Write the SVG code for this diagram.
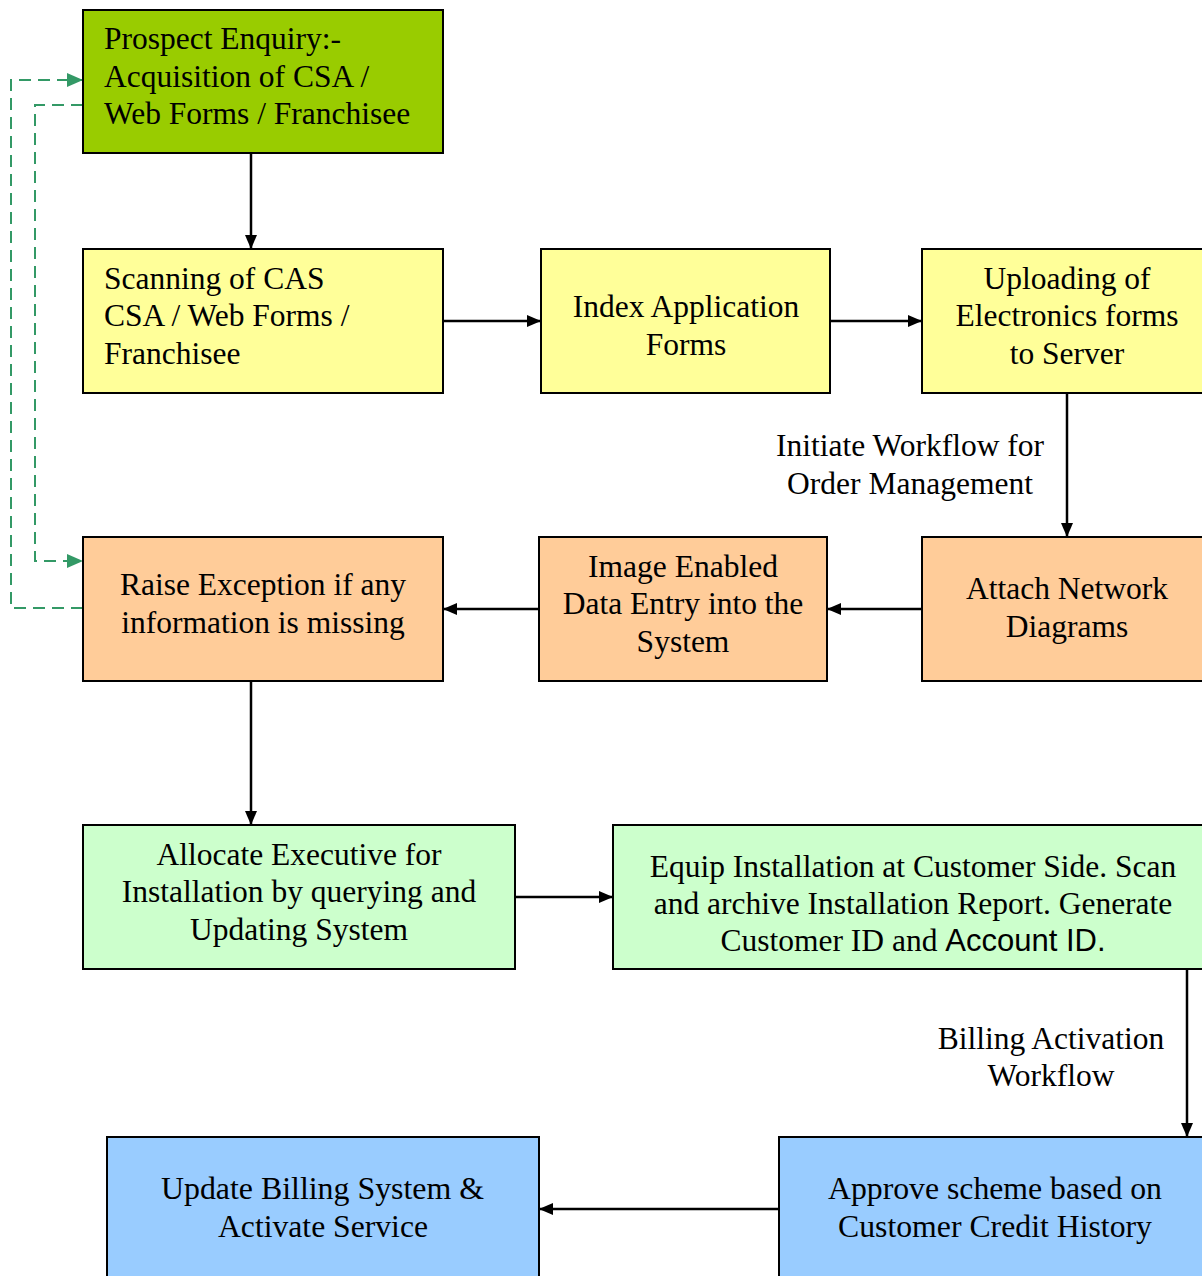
<svg xmlns="http://www.w3.org/2000/svg" width="1202" height="1276" viewBox="0 0 1202 1276">
<style>
.box{stroke:#000;stroke-width:2}
.t{font-family:"Liberation Serif","Times New Roman",serif;font-size:31.5px;fill:#000}
.c{text-anchor:middle}
.ln{stroke:#000;stroke-width:2.5;fill:none}
.dl{stroke:#339966;stroke-width:2;fill:none;stroke-dasharray:12,7}
</style>
<defs>
<marker id="ah" markerWidth="14" markerHeight="14" refX="13" refY="7" orient="auto" markerUnits="userSpaceOnUse" viewBox="0 0 14 14"><path d="M0,1 L14,7 L0,13 z" fill="#000"/></marker>
<marker id="gh" markerWidth="16" markerHeight="16" refX="15" refY="8" orient="auto" markerUnits="userSpaceOnUse" viewBox="0 0 16 16"><path d="M0,1 L16,8 L0,15 z" fill="#339966"/></marker>
</defs>
<rect width="1202" height="1276" fill="#fff"/>
<g id="connectors">
<path class="ln" d="M251,153 V248" marker-end="url(#ah)"/>
<path class="ln" d="M443,321 H540" marker-end="url(#ah)"/>
<path class="ln" d="M830,321 H921" marker-end="url(#ah)"/>
<path class="ln" d="M1067,393 V536" marker-end="url(#ah)"/>
<path class="ln" d="M922,609 H828" marker-end="url(#ah)"/>
<path class="ln" d="M539,609 H444" marker-end="url(#ah)"/>
<path class="ln" d="M251,681 V824" marker-end="url(#ah)"/>
<path class="ln" d="M515,897 H612" marker-end="url(#ah)"/>
<path class="ln" d="M1187,969 V1136" marker-end="url(#ah)"/>
<path class="ln" d="M779,1209 H540" marker-end="url(#ah)"/>
<path class="dl" d="M83,608 H11 V80 H82" marker-end="url(#gh)"/>
<path class="dl" d="M83,105 H35 V561 H82" marker-end="url(#gh)"/>
<text class="t c" x="910" y="456">Initiate Workflow for</text>
<text class="t c" x="910" y="494">Order Management</text>
<text class="t c" x="1051" y="1049">Billing Activation</text>
<text class="t c" x="1051" y="1086">Workflow</text>
</g>
<g id="n1"><rect class="box" x="83" y="10" width="360" height="143" fill="#99CC00"/>
<text class="t" x="104" y="49">Prospect Enquiry:-</text>
<text class="t" x="104" y="87">Acquisition of CSA /</text>
<text class="t" x="104" y="124">Web Forms / Franchisee</text></g>
<g id="n2"><rect class="box" x="83" y="249" width="360" height="144" fill="#FFFF99"/>
<text class="t" x="104" y="289">Scanning of CAS</text>
<text class="t" x="104" y="326">CSA / Web Forms /</text>
<text class="t" x="104" y="364">Franchisee</text></g>
<g id="n3"><rect class="box" x="541" y="249" width="289" height="144" fill="#FFFF99"/>
<text class="t c" x="686" y="317">Index Application</text>
<text class="t c" x="686" y="355">Forms</text></g>
<g id="n4"><rect class="box" x="922" y="249" width="282" height="144" fill="#FFFF99"/>
<text class="t c" x="1067" y="289">Uploading of</text>
<text class="t c" x="1067" y="326">Electronics forms</text>
<text class="t c" x="1067" y="364">to Server</text></g>
<g id="n5"><rect class="box" x="83" y="537" width="360" height="144" fill="#FFCC99"/>
<text class="t c" x="263" y="595">Raise Exception if any</text>
<text class="t c" x="263" y="633">information is missing</text></g>
<g id="n6"><rect class="box" x="539" y="537" width="288" height="144" fill="#FFCC99"/>
<text class="t c" x="683" y="577">Image Enabled</text>
<text class="t c" x="683" y="614">Data Entry into the</text>
<text class="t c" x="683" y="652">System</text></g>
<g id="n7"><rect class="box" x="922" y="537" width="282" height="144" fill="#FFCC99"/>
<text class="t c" x="1067" y="599">Attach Network</text>
<text class="t c" x="1067" y="637">Diagrams</text></g>
<g id="n8"><rect class="box" x="83" y="825" width="432" height="144" fill="#CCFFCC"/>
<text class="t c" x="299" y="865">Allocate Executive for</text>
<text class="t c" x="299" y="902">Installation by querying and</text>
<text class="t c" x="299" y="940">Updating System</text></g>
<g id="n9"><rect class="box" x="613" y="825" width="591" height="144" fill="#CCFFCC"/>
<text class="t c" x="913" y="877">Equip Installation at Customer Side. Scan</text>
<text class="t c" x="913" y="914">and archive Installation Report. Generate</text>
<text class="t c" x="913" y="951">Customer ID and <tspan font-family="Liberation Sans, Arial, sans-serif" font-size="31">Account ID.</tspan></text></g>
<g id="n10"><rect class="box" x="107" y="1137" width="432" height="141" fill="#99CCFF"/>
<text class="t" x="161" y="1199" textLength="323" lengthAdjust="spacingAndGlyphs">Update Billing System &amp;</text>
<text class="t" x="218" y="1237" textLength="210" lengthAdjust="spacingAndGlyphs">Activate Service</text></g>
<g id="n11"><rect class="box" x="779" y="1137" width="425" height="141" fill="#99CCFF"/>
<text class="t" x="828" y="1199" textLength="334" lengthAdjust="spacingAndGlyphs">Approve scheme based on</text>
<text class="t" x="838" y="1237" textLength="314" lengthAdjust="spacingAndGlyphs">Customer Credit History</text></g>
</svg>
